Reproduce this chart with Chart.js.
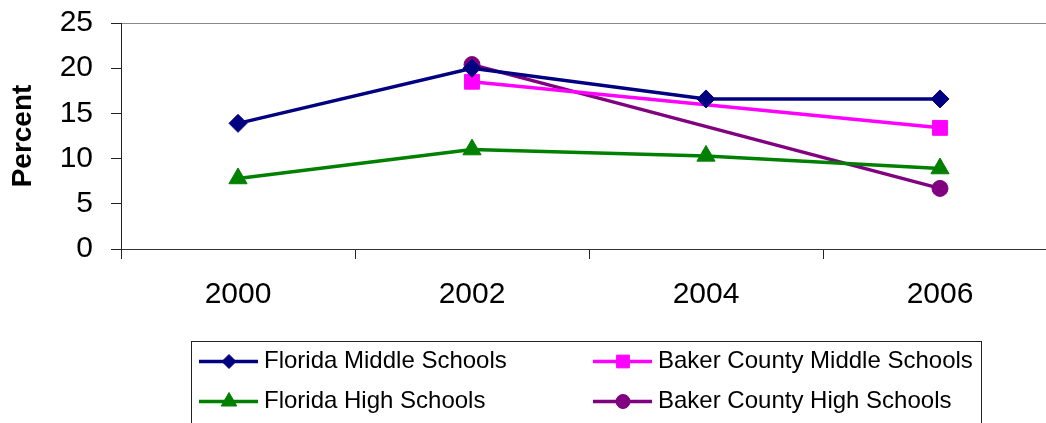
<!DOCTYPE html>
<html>
<head>
<meta charset="utf-8">
<script src="https://cdn.jsdelivr.net/npm/chart.js@4.4.1/dist/chart.umd.min.js"></script>
<style>
html,body{margin:0;padding:0;background:#fff;}
#wrap{width:1046px;height:423px;position:relative;}
</style>
</head>
<body>
<div id="wrap"><canvas id="c" width="1046" height="423"></canvas></div>
<script>
const years = ['2000', '2002', '2004', '2006'];
const floridaMiddle = [13.9, 20.0, 16.6, 16.6];
const bakerMiddle = [null, 18.5, null, 13.4];
const floridaHigh = [7.8, 11.0, 10.3, 8.9];
const bakerHigh = [null, 20.4, null, 6.7];
const yTicks = [0, 5, 10, 15, 20, 25];

const FONT = "'Liberation Sans', Arial, sans-serif";

function pts(arr) {
  return arr.map((v, i) => ({x: i, y: v}));
}

function ds(label, data, color, style, radius) {
  return {
    label, data: pts(data),
    borderColor: color, backgroundColor: color,
    borderWidth: 3.5,
    pointStyle: style, pointRadius: radius, pointHoverRadius: radius,
    pointBorderWidth: 1, pointBackgroundColor: color, pointBorderColor: color,
    spanGaps: true, tension: 0, fill: false, clip: false
  };
}

const legendPlugin = {
  id: 'boxLegend',
  afterDraw(chart) {
    const ctx = chart.ctx;
    ctx.save();
    ctx.strokeStyle = '#222';
    ctx.lineWidth = 1;
    ctx.strokeRect(191.5, 341.5, 790, 120);
    const cols = [199, 593];
    const rows = [361.5, 401.5];
    const legendRadius = [7, 9, 9, 7];
    chart.data.datasets.forEach((d, i) => {
      const x0 = cols[i % 2];
      const y = rows[Math.floor(i / 2)];
      ctx.strokeStyle = d.borderColor;
      ctx.lineWidth = 3.5;
      ctx.beginPath();
      ctx.moveTo(x0, y);
      ctx.lineTo(x0 + 59, y);
      ctx.stroke();
      ctx.fillStyle = d.backgroundColor;
      ctx.lineWidth = 1;
      Chart.helpers.drawPoint(ctx, {pointStyle: d.pointStyle, radius: legendRadius[i], rotation: 0, borderWidth: 1}, x0 + 30, y);
      ctx.fillStyle = '#000';
      ctx.font = '24px ' + FONT;
      ctx.textBaseline = 'middle';
      ctx.textAlign = 'left';
      ctx.fillText(d.label, x0 + 65, y);
    });
    ctx.restore();
  }
};

new Chart(document.getElementById('c'), {
  type: 'line',
  data: {
    datasets: [
      ds('Florida Middle Schools', floridaMiddle, '#000080', 'rectRot', 9),
      ds('Baker County Middle Schools', bakerMiddle, '#FF00FF', 'rect', 10.5),
      ds('Florida High Schools', floridaHigh, '#008000', 'triangle', 10.5),
      ds('Baker County High Schools', bakerHigh, '#800080', 'circle', 8)
    ]
  },
  options: {
    responsive: false,
    animation: false,
    events: [],
    layout: {autoPadding: false, padding: {left: 0, right: 0, top: 23, bottom: 110}},
    plugins: {legend: {display: false}, tooltip: {enabled: false}},
    scales: {
      x: {
        type: 'linear',
        min: -0.5,
        max: -0.5 + (1046 - 121) / 234,
        afterBuildTicks: s => { s.ticks = years.map((y, i) => ({value: i})); },
        afterFit: s => { s.height = 64; s.paddingLeft = 0; s.paddingRight = 0; },
        grid: {offset: true, drawOnChartArea: false, drawTicks: true, tickLength: 10, color: '#222', lineWidth: 1},
        border: {color: '#333', width: 1},
        ticks: {
          font: {size: 30, family: FONT}, color: '#000', padding: 18, maxRotation: 0, autoSkip: false,
          callback: v => years[v]
        }
      },
      y: {
        min: 0, max: 25,
        afterBuildTicks: s => { s.ticks = yTicks.map(v => ({value: v})); },
        afterFit: s => { s.width = 121; s.paddingTop = 0; s.paddingBottom = 0; s.paddingLeft = 0; s.paddingRight = 0; },
        ticks: {font: {size: 30, family: FONT}, color: '#000', padding: 18},
        grid: {
          color: c => (c.tick && c.tick.value === 25) ? '#888' : 'rgba(0,0,0,0)',
          tickColor: '#222', tickLength: 10, lineWidth: 1
        },
        border: {color: '#222', width: 1},
        title: {display: true, text: 'Percent', color: '#000', font: {size: 28, weight: 'bold', family: FONT}, padding: {top: 6, bottom: 0}}
      }
    }
  },
  plugins: [legendPlugin]
});
</script>
</body>
</html>
